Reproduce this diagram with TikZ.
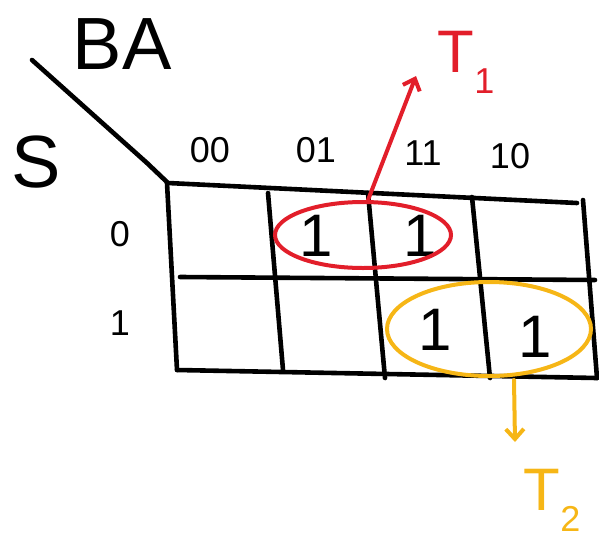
\documentclass[tikz,border=0pt]{standalone}
\usepackage{fontspec}
\setmainfont{Liberation Sans}
\usetikzlibrary{shapes.geometric,arrows.meta}
\definecolor{penred}{RGB}{226,30,42}
\definecolor{penyel}{RGB}{246,182,22}
\tikzset{
  ink/.style={line width=4.6pt, line cap=round, line join=round},
  big/.style={font=\fontsize{74}{74}\selectfont, inner sep=0pt},
  head/.style={font=\fontsize{36}{36}\selectfont, inner sep=0pt},
  one/.style={font=\fontsize{60}{60}\selectfont, inner sep=0pt},
  loop/.style={ellipse, draw, line width=4pt, inner sep=0pt},
  tip/.style={-{Straight Barb[length=10pt,width=18pt,line width=4pt]}}
}
\begin{document}
\begin{tikzpicture}[x=1pt,y=-1pt]
\useasboundingbox (0,0) rectangle (599,544);
% grid
\draw[ink] (32,60) -- (147,163) -- (168,183);
\draw[ink] (168,183) -- (577,203);
\draw[ink] (180,277) -- (595,280);
\draw[ink] (177,370) -- (597,378);
\draw[ink] (167,183) -- (177,370);
\draw[ink] (268,193) -- (283,370);
\draw[ink] (368,193) -- (385,378);
\draw[ink] (472,197) -- (490,378);
\draw[ink] (583,200) -- (597,378);
% labels
\node[big] (ba) at (122,44) {BA};
\node[big] (s) at (36,162) {S};
\node[head] (c00) at (210,150) {00};
\node[head] (c01) at (316,150) {01};
\node[head] (c11) at (423,153) {11};
\node[head] (c10) at (510,156) {10};
\node[head] (r0) at (120,234) {0};
\node[head] (r1) at (120,323) {1};
% ones
\node[one] (a) at (316,236) {1};
\node[one] (b) at (420,236) {1};
\node[one] (c) at (435,330) {1};
\node[one] (d) at (535,337) {1};
% groups
\node[loop, draw=penred, minimum width=176pt, minimum height=66pt] (g1) at (363,235) {};
\node[loop, draw=penyel, minimum width=204pt, minimum height=94pt] (g2) at (489,329) {};
% outputs
\node[inner sep=0pt, text=penred, font=\fontsize{60}{60}\selectfont] (t1) at (466,62) {T\raisebox{-0.35em}{\fontsize{36}{36}\selectfont 1}};
\node[inner sep=0pt, text=penyel, font=\fontsize{60}{60}\selectfont] (t2) at (552,500) {T\raisebox{-0.35em}{\fontsize{36}{36}\selectfont 2}};
\coordinate (e1) at (416,76);
\coordinate (e2) at (515,442);
\draw[ink, draw=penred, line width=4pt, tip] (g1.north) ++(5,0) -- (e1);
\draw[ink, draw=penyel, line width=4pt, tip] (g2.south) ++(25,2) -- (e2);
\end{tikzpicture}
\end{document}
